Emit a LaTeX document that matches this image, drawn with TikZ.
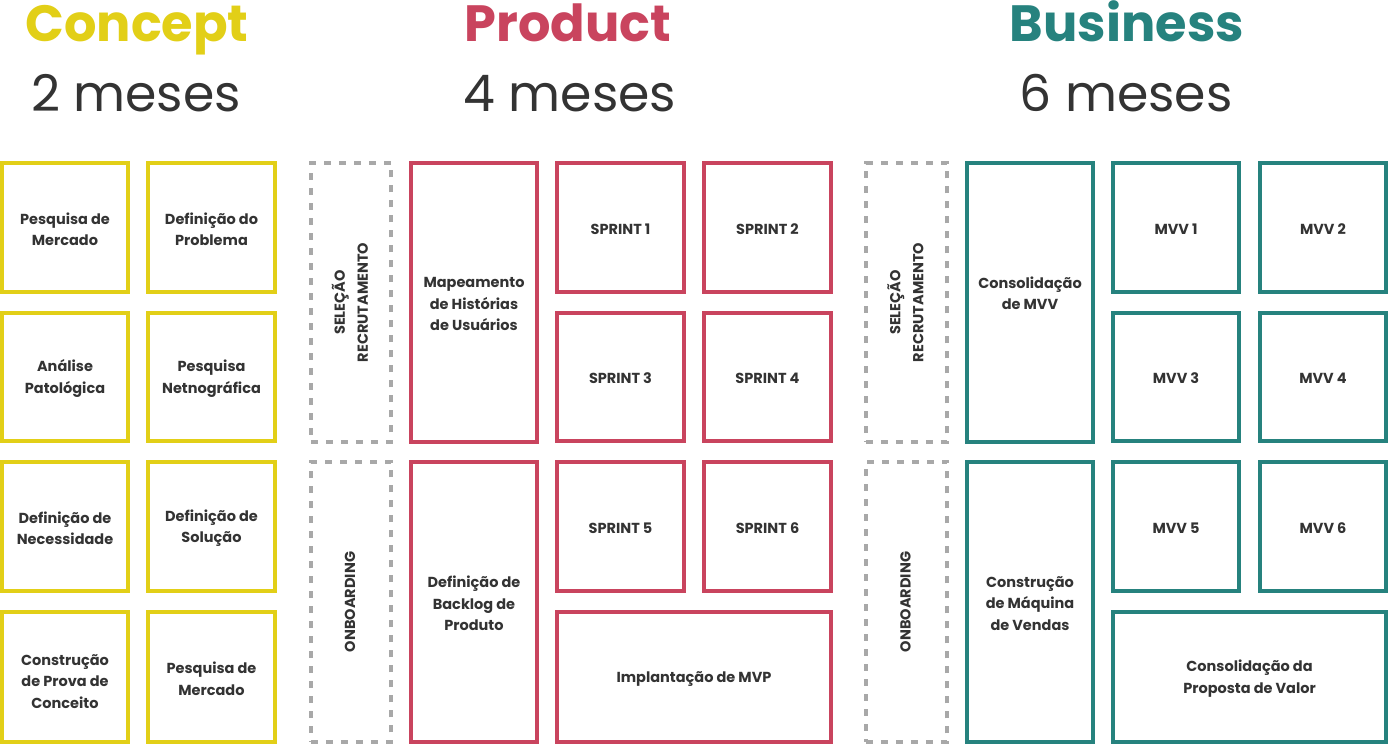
\documentclass[tikz,border=0pt]{standalone}
\usepackage{fontspec}
\setmainfont{Poppins}
\definecolor{cyel}{HTML}{E2CF17}
\definecolor{cred}{HTML}{C9445E}
\definecolor{cteal}{HTML}{26827E}
\definecolor{ctxt}{HTML}{333333}
\definecolor{cgray}{HTML}{A8A8A8}
\tikzset{
  box/.style={draw, line width=4pt, inner sep=0pt},
  ybox/.style={box, draw=cyel},
  rbox/.style={box, draw=cred},
  tbox/.style={box, draw=cteal},
  dbox/.style={draw=cgray, line width=3.8pt, dash pattern=on 7pt off 8pt, inner sep=0pt},
  vtext/.style={rotate=90, align=center, text=ctxt, font=\bfseries\fontsize{14.5}{23}\selectfont},
  ltext/.style={align=center, text=ctxt, inner sep=0pt, font=\bfseries\fontsize{14.5}{21.5}\selectfont},
  title/.style={anchor=base, font=\bfseries\fontsize{51}{60}\selectfont},
  sub/.style={anchor=base, text=ctxt, font=\fontsize{50.5}{60}\selectfont},
}
\newcommand\bxo[8]{\node[#6, minimum width={#4-#2-4}, minimum height={#5-#3-4}] (#1) at ({(#2+#4)/2},{(#3+#5)/2}) {};
  \node[ltext] (#1t) at ({(#2+#4)/2},{(#3+#5)/2+#8}) {#7};}
\newcommand\bx[7]{\bxo{#1}{#2}{#3}{#4}{#5}{#6}{#7}{1.5}}
\newcommand\dbx[6]{\node[dbox, minimum width={#4-#2-3.8}, minimum height={#5-#3-3.8}] (#1) at ({(#2+#4)/2},{(#3+#5)/2}) {};
  \node[vtext] (#1t) at ({(#2+#4)/2-1},{(#3+#5)/2}) {#6};}
\begin{document}
\begin{tikzpicture}[x=1pt,y=-1pt]
\useasboundingbox (0,0) rectangle (1388,745);
% titles
\node[title, text=cyel] (t1) at (137,41) {Concept};
\node[sub] (s1) at (136,111) {2 meses};
\node[title, text=cred] (t2) at (568,41) {Product};
\node[sub] (s2) at (570,111) {4 meses};
\node[title, text=cteal] (t3) at (1127,41) {Business};
\node[sub] (s3) at (1126,111) {6 meses};
% Concept
\bx{c1}{0}{161}{130}{294}{ybox}{Pesquisa de\\Mercado}
\bx{c2}{146}{161}{277}{294}{ybox}{Definição do\\Problema}
\bx{c3}{0}{311}{130}{443}{ybox}{Análise\\Patológica}
\bx{c4}{146}{311}{277}{443}{ybox}{Pesquisa\\Netnográfica}
\bx{c5}{0}{460}{130}{593}{ybox}{Definição de\\Necessidade}
\bx{c6}{146}{460}{277}{593}{ybox}{Definição de\\Solução}
\bxo{c7}{0}{610}{130}{744}{ybox}{Construção\\de Prova de\\Conceito}{4.5}
\bx{c8}{146}{610}{277}{744}{ybox}{Pesquisa de\\Mercado}
% Product
\dbx{pd1}{309}{161}{393}{444}{SELEÇÃO\\RECRUTAMENTO}
\dbx{pd2}{309}{460}{393}{744}{ONBOARDING}
\bx{p1}{409}{161}{539}{444}{rbox}{Mapeamento\\de Histórias\\de Usuários}
\bx{p2}{409}{460}{539}{744}{rbox}{Definição de\\Backlog de\\Produto}
\bx{s1b}{555}{161}{686}{294}{rbox}{SPRINT 1}
\bx{s2b}{702}{161}{833}{294}{rbox}{SPRINT 2}
\bx{s3b}{555}{311}{686}{443}{rbox}{SPRINT 3}
\bx{s4b}{702}{311}{833}{443}{rbox}{SPRINT 4}
\bx{s5b}{555}{460}{686}{593}{rbox}{SPRINT 5}
\bx{s6b}{702}{460}{833}{593}{rbox}{SPRINT 6}
\bx{mvp}{555}{610}{833}{744}{rbox}{Implantação de MVP}
% Business
\dbx{bd1}{864}{161}{949}{444}{SELEÇÃO\\RECRUTAMENTO}
\dbx{bd2}{864}{460}{949}{744}{ONBOARDING}
\bxo{b1}{965}{161}{1095}{444}{tbox}{Consolidação\\de MVV}{-9.5}
\bx{b2}{965}{460}{1095}{744}{tbox}{Construção\\de Máquina\\de Vendas}
\bx{m1}{1111}{161}{1241}{294}{tbox}{MVV 1}
\bx{m2}{1258}{161}{1388}{294}{tbox}{MVV 2}
\bx{m3}{1111}{311}{1241}{443}{tbox}{MVV 3}
\bx{m4}{1258}{311}{1388}{443}{tbox}{MVV 4}
\bx{m5}{1111}{460}{1241}{593}{tbox}{MVV 5}
\bx{m6}{1258}{460}{1388}{593}{tbox}{MVV 6}
\bx{pv}{1111}{610}{1388}{744}{tbox}{Consolidação da\\Proposta de Valor}
\end{tikzpicture}
\end{document}
